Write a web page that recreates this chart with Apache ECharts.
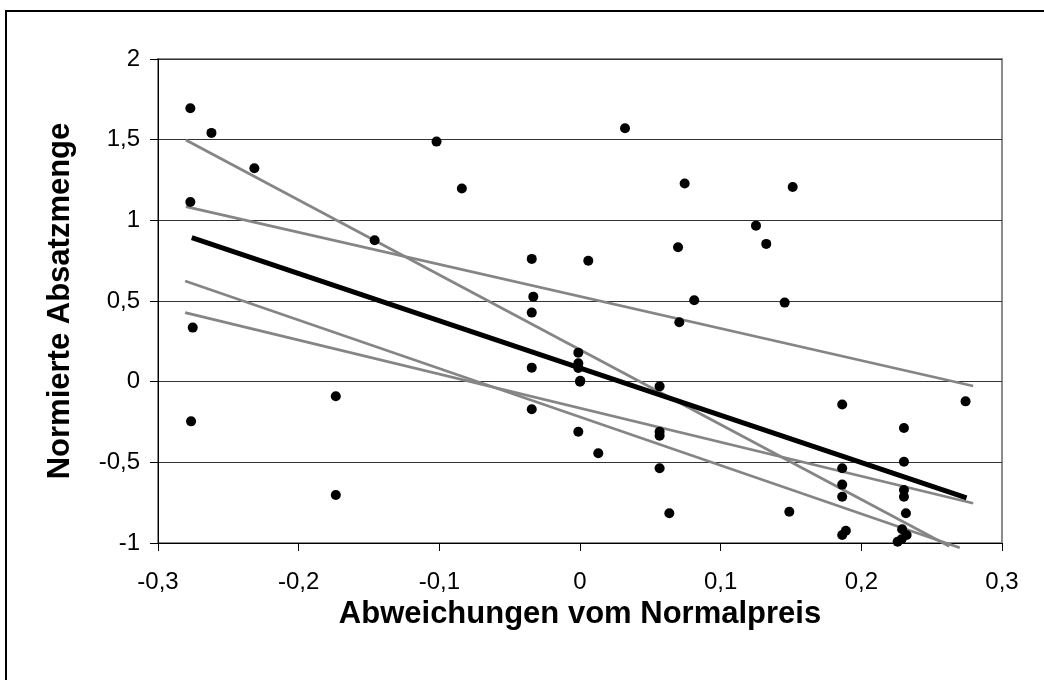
<!DOCTYPE html>
<html>
<head>
<meta charset="utf-8">
<script src="https://cdn.jsdelivr.net/npm/echarts@6/dist/echarts.min.js"></script>
<style>
  html, body { margin: 0; padding: 0; background: #fff; }
  #chart { width: 1044px; height: 680px; }
</style>
</head>
<body>
<div id="chart"></div>
<script>
// Observations: price deviation (x) vs. normalised sales volume (y)
const points = [
  [-0.277, 1.695], [-0.262, 1.542], [-0.2315, 1.323], [-0.277, 1.114], [-0.146, 0.877], [-0.102, 1.488],
  [-0.084, 1.197], [0.032, 1.571], [0.0744, 1.228], [-0.0343, 0.761], [0.0059, 0.75], [0.0697, 0.833],
  [-0.0332, 0.527], [0.0812, 0.505], [0.1512, 1.207], [0.1251, 0.967], [0.1324, 0.854], [0.1455, 0.49],
  [-0.2753, 0.335], [-0.2765, -0.246], [-0.1736, -0.09], [-0.1736, -0.702],
  [-0.0343, 0.428], [0.0706, 0.368], [-0.0012, 0.18], [-0.0012, 0.114], [-0.0012, 0.085], [-0.0343, 0.087],
  [0.0002, 0.005], [0, 0], [0.0566, -0.029], [-0.0343, -0.171], [0.0566, -0.31], [0.0566, -0.335],
  [-0.0012, -0.31], [0.013, -0.444], [0.0566, -0.537], [0.0635, -0.816],
  [0.2741, -0.122], [0.1864, -0.142], [0.2303, -0.287], [0.2303, -0.496], [0.1864, -0.537], [0.1864, -0.638],
  [0.1864, -0.713], [0.2303, -0.671], [0.2303, -0.713], [0.2317, -0.816], [0.1488, -0.806], [0.1864, -0.95],
  [0.189, -0.924], [0.229, -0.915], [0.2322, -0.95], [0.2258, -0.992], [0.2286, -0.977]
];

// Overall regression line (start and end point)
const mainFit = [[-0.276, 0.893], [0.2748, -0.72]];

// Regression lines of the individual groups
const groupFitA = [[-0.2802, 1.498], [0.2625, -1.02]];
const groupFitB = [[-0.2802, 1.085], [0.2795, -0.027]];
const groupFitC = [[-0.2807, 0.624], [0.270, -1.03]];
const groupFitD = [[-0.2807, 0.428], [0.2795, -0.754]];

// Axis ticks
const xTicks = [-0.3, -0.2, -0.1, 0, 0.1, 0.2, 0.3];
const yTicks = [-1, -0.5, 0, 0.5, 1, 1.5, 2];

const xTitle = 'Abweichungen vom Normalpreis';
const yTitle = 'Normierte Absatzmenge';

const FONT = '"Liberation Sans", Arial, sans-serif';
const fmt = v => String(Number(v.toFixed(2))).replace('.', ',');

const grayLine = data => ({
  type: 'line',
  data: data,
  symbol: 'none',
  clip: false,
  silent: true,
  z: 2,
  lineStyle: { color: '#858585', width: 2.7 }
});

const chart = echarts.init(document.getElementById('chart'), null, { renderer: 'canvas' });
chart.setOption({
  backgroundColor: '#ffffff',
  animation: false,
  grid: {
    left: 158, right: 42, top: 59, bottom: 137,
    show: true, borderColor: '#8c8c8c', borderWidth: 2, backgroundColor: 'transparent'
  },
  graphic: [{
    type: 'rect',
    shape: { x: 6, y: 11, width: 1100, height: 720 },
    style: { fill: 'none', stroke: '#000', lineWidth: 2 },
    silent: true
  }],
  xAxis: {
    type: 'value',
    min: xTicks[0], max: xTicks[xTicks.length - 1], interval: 0.1,
    name: xTitle, nameLocation: 'middle', nameGap: 49,
    nameTextStyle: { fontFamily: FONT, fontSize: 31, fontWeight: 'bold', color: '#000' },
    axisLine: { show: true, onZero: false, lineStyle: { color: '#000', width: 1 } },
    axisTick: { show: true, inside: false, length: 8, lineStyle: { color: '#000' } },
    axisLabel: { fontFamily: FONT, fontSize: 24, color: '#000', margin: 27, formatter: fmt },
    splitLine: { show: false }
  },
  yAxis: {
    type: 'value',
    min: yTicks[0], max: yTicks[yTicks.length - 1], interval: 0.5,
    name: yTitle, nameLocation: 'middle', nameGap: 82, nameRotate: 90,
    nameTextStyle: { fontFamily: FONT, fontSize: 31, fontWeight: 'bold', color: '#000' },
    axisLine: { show: true, onZero: false, lineStyle: { color: '#000', width: 1 } },
    axisTick: { show: true, inside: false, length: 8, lineStyle: { color: '#000' } },
    axisLabel: { fontFamily: FONT, fontSize: 24, color: '#000', margin: 18, formatter: fmt },
    splitLine: { show: true, lineStyle: { color: '#333333', width: 1 } }
  },
  series: [
    grayLine(groupFitA),
    grayLine(groupFitB),
    grayLine(groupFitC),
    grayLine(groupFitD),
    {
      type: 'line',
      data: mainFit,
      symbol: 'none',
      clip: false,
      silent: true,
      z: 3,
      lineStyle: { color: '#000', width: 5 }
    },
    {
      type: 'scatter',
      data: points,
      symbol: 'circle',
      symbolSize: 10,
      z: 4,
      itemStyle: { color: '#000', opacity: 1 }
    }
  ]
});
</script>
</body>
</html>
